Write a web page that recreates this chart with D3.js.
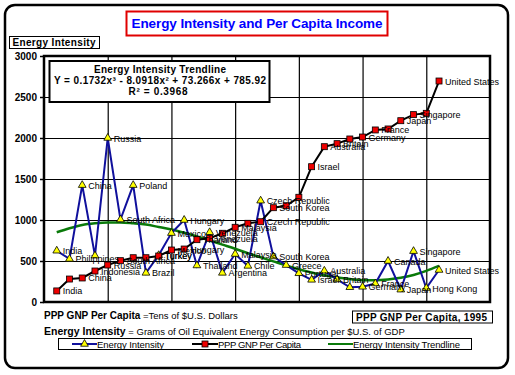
<!DOCTYPE html>
<html>
<head>
<meta charset="utf-8">
<script src="https://cdn.jsdelivr.net/npm/d3@7"></script>
<style>
  body { margin: 0; background: #fff; }
  svg { display: block; font-family: "Liberation Sans", Arial, sans-serif; }
</style>
</head>
<body>
<div id="chart"></div>
<script>
// countries sorted by PPP GNP per capita (x position = 1..31)
var countries = ["India", "Philippines", "China", "Indonesia", "Russia", "South Africa", "Poland", "Brazil", "Turkey", "Mexico",
    "Hungary", "Thailand", "Venezuela", "Argentina", "Malaysia", "Chile", "Czech Republic", "South Korea", "Greece", "Portugal",
    "Israel", "Australia", "Britain", "Italy", "Germany", "France", "Canada", "Japan", "Singapore", "Hong Kong", "United States"];

var energyIntensity = [625, 525, 1425, 565, 2000, 1005, 1425, 355, 570, 840,
    1000, 445, 850, 355, 585, 440, 1235, 555, 450, 350,
    270, 380, 275, 180, 185, 225, 500, 150, 620, 170, 390];

var pppPerCapita = [135, 280, 293, 378, 451, 504, 540, 540, 561, 634,
    646, 760, 777, 838, 911, 960, 979, 1150, 1174, 1277,
    1650, 1894, 1931, 1988, 2012, 2098, 2110, 2211, 2285, 2301, 2695];

// trendline
var trendline = [850, 900, 940, 960, 970, 970, 960, 945, 915, 885,
    845, 800, 750, 700, 650, 595, 545, 495, 445, 400,
    360, 325, 300, 280, 265, 265, 275, 295, 330, 380, 440];

// which labels are visible in the picture
var eiLabels = countries.map(function(c) { return (c == "Indonesia" || c == "Italy") ? "" : c; });
var pppHidden = ["Philippines", "Poland", "Brazil", "Argentina", "Chile", "Greece", "Portugal", "Italy", "Canada", "Hong Kong"];
var pppLabels = countries.map(function(c) { return pppHidden.indexOf(c) >= 0 ? "" : c; });

var yTicks = [0, 500, 1000, 1500, 2000, 2500, 3000];
var xTicks = [5, 10, 15, 20, 25, 30];

var W = 515, H = 375;
var plotL = 44, plotR = 490, plotT = 56, plotB = 302;

var svg = d3.select("#chart").append("svg")
    .attr("width", W)
    .attr("height", H);

// outer rounded frame
svg.append("rect")
    .attr("x", 5).attr("y", 5)
    .attr("width", 503).attr("height", 363)
    .attr("rx", 10).attr("ry", 10)
    .attr("fill", "#fff")
    .attr("stroke", "#000")
    .attr("stroke-width", 2.5);

// title
svg.append("rect")
    .attr("x", 126.5).attr("y", 11.5)
    .attr("width", 261).attr("height", 24)
    .attr("fill", "#fff")
    .attr("stroke", "#e00000")
    .attr("stroke-width", 2);

svg.append("text")
    .attr("x", 257).attr("y", 28)
    .attr("text-anchor", "middle")
    .attr("font-size", "13.5px")
    .attr("font-weight", "bold")
    .attr("fill", "#0000ff")
    .attr("textLength", 251)
    .text("Energy Intensity and Per Capita Income");

// y axis title box
svg.append("rect")
    .attr("x", 9.5).attr("y", 36.5)
    .attr("width", 90).attr("height", 12)
    .attr("fill", "#fff")
    .attr("stroke", "#000")
    .attr("stroke-width", 1);

svg.append("text")
    .attr("x", 12.5).attr("y", 46)
    .attr("font-size", "10px")
    .attr("font-weight", "bold")
    .attr("textLength", 83)
    .text("Energy Intensity");

var x = d3.scaleLinear().domain([0, 35]).range([plotL, plotR]);
var y = d3.scaleLinear().domain([0, 3000]).range([plotB, plotT]);

// gridlines
svg.append("g")
    .attr("transform", "translate(0," + plotB + ")")
    .call(d3.axisBottom(x).tickValues(xTicks).tickSize(-(plotB - plotT)).tickFormat(""))
    .call(function(g) { g.select(".domain").remove(); })
    .selectAll("line")
    .attr("stroke", "#000")
    .attr("stroke-width", 1.2);

svg.append("g")
    .attr("transform", "translate(" + plotL + ",0)")
    .call(d3.axisLeft(y).tickValues(yTicks.slice(1, -1)).tickSize(-(plotR - plotL)).tickFormat(""))
    .call(function(g) { g.select(".domain").remove(); })
    .selectAll("line")
    .attr("stroke", "#000")
    .attr("stroke-width", 1.2);

// y axis with labels
var yAxis = svg.append("g")
    .attr("transform", "translate(" + plotL + ",0)")
    .call(d3.axisLeft(y).tickValues(yTicks).tickSize(4).tickPadding(3).tickFormat(d3.format("d")));
yAxis.select(".domain").remove();
yAxis.selectAll("line").attr("stroke", "#000").attr("stroke-width", 1.5);
yAxis.selectAll("text")
    .attr("font-family", "Liberation Sans, Arial, sans-serif")
    .attr("font-size", "10px")
    .attr("font-weight", "bold")
    .attr("fill", "#000");

// plot frame
svg.append("rect")
    .attr("x", plotL).attr("y", plotT)
    .attr("width", plotR - plotL).attr("height", plotB - plotT)
    .attr("fill", "none")
    .attr("stroke", "#000")
    .attr("stroke-width", 2.5);

// trendline box
var tb = svg.append("g");
tb.append("rect")
    .attr("x", 49.5).attr("y", 61)
    .attr("width", 220).attr("height", 41)
    .attr("fill", "#fff")
    .attr("stroke", "#000")
    .attr("stroke-width", 2);
tb.append("text")
    .attr("x", 160).attr("y", 72.5)
    .attr("text-anchor", "middle")
    .attr("font-size", "10px").attr("font-weight", "bold")
    .attr("textLength", 132)
    .text("Energy Intensity Trendline");
tb.append("text")
    .attr("x", 160).attr("y", 83.5)
    .attr("text-anchor", "middle")
    .attr("font-size", "10px").attr("font-weight", "bold")
    .attr("textLength", 212)
    .text("Y = 0.1732x³ - 8.0918x² + 73.266x + 785.92");
tb.append("text")
    .attr("x", 158).attr("y", 94.5)
    .attr("text-anchor", "middle")
    .attr("font-size", "10px").attr("font-weight", "bold")
    .attr("textLength", 59)
    .text("R² = 0.3968");

var line = d3.line()
    .x(function(d, i) { return x(i + 1); })
    .y(function(d) { return y(d); });

// trendline
svg.append("path")
    .datum(trendline)
    .attr("d", line.curve(d3.curveMonotoneX))
    .attr("fill", "none")
    .attr("stroke", "#0a7a0a")
    .attr("stroke-width", 2.5);
line.curve(d3.curveLinear);

// energy intensity line
svg.append("path")
    .datum(energyIntensity)
    .attr("d", line)
    .attr("fill", "none")
    .attr("stroke", "#10109c")
    .attr("stroke-width", 2);

// ppp line
svg.append("path")
    .datum(pppPerCapita)
    .attr("d", line)
    .attr("fill", "none")
    .attr("stroke", "#000")
    .attr("stroke-width", 2);

var tri = d3.symbol().type(d3.symbolTriangle).size(26);

svg.append("g").selectAll("path")
    .data(energyIntensity)
    .enter().append("path")
    .attr("d", tri)
    .attr("transform", function(d, i) { return "translate(" + x(i + 1) + "," + y(d) + ")"; })
    .attr("fill", "#ffff00")
    .attr("stroke", "#000")
    .attr("stroke-width", 0.8);

svg.append("g").selectAll("rect")
    .data(pppPerCapita)
    .enter().append("rect")
    .attr("x", function(d, i) { return x(i + 1) - 3; })
    .attr("y", function(d) { return y(d) - 3; })
    .attr("width", 6).attr("height", 6)
    .attr("fill", "#ee0000")
    .attr("stroke", "#000")
    .attr("stroke-width", 0.8);

// data labels
var labs = svg.append("g").attr("font-size", "9px").attr("fill", "#000");
labs.selectAll(".ei")
    .data(energyIntensity)
    .enter().append("text")
    .attr("class", "ei")
    .attr("x", function(d, i) { return x(i + 1) + 6; })
    .attr("y", function(d) { return y(d) + 3.5; })
    .text(function(d, i) { return eiLabels[i]; });

labs.selectAll(".ppp")
    .data(pppPerCapita)
    .enter().append("text")
    .attr("class", "ppp")
    .attr("x", function(d, i) { return x(i + 1) + 6; })
    .attr("y", function(d) { return y(d) + 3.5; })
    .text(function(d, i) { return pppLabels[i]; });

// notes under the chart
var n1 = svg.append("text").attr("x", 44).attr("y", 319).attr("font-size", "9.5px");
n1.append("tspan").attr("font-weight", "bold").attr("font-size", "10px").text("PPP GNP Per Capita");
n1.append("tspan").text(" =Tens of $U.S. Dollars");

var n2 = svg.append("text").attr("x", 44).attr("y", 335).attr("font-size", "9.5px");
n2.append("tspan").attr("font-weight", "bold").attr("font-size", "10.5px").text("Energy Intensity");
n2.append("tspan").text(" = Grams of Oil Equivalent Energy Consumption per $U.S. of GDP");

svg.append("rect")
    .attr("x", 352.5).attr("y", 311)
    .attr("width", 140).attr("height", 12)
    .attr("fill", "#fff")
    .attr("stroke", "#000")
    .attr("stroke-width", 1);
svg.append("text")
    .attr("x", 356).attr("y", 320.5)
    .attr("font-size", "10px").attr("font-weight", "bold")
    .attr("textLength", 131)
    .text("PPP GNP Per Capita, 1995");

// legend
var lg = svg.append("g");
lg.append("rect")
    .attr("x", 58.5).attr("y", 338.5)
    .attr("width", 413).attr("height", 11)
    .attr("fill", "#fff")
    .attr("stroke", "#000")
    .attr("stroke-width", 1);

var legendItems = [
    { name: "Energy Intensity", color: "#10109c", x0: 72, x1: 97, mark: "tri", w: 67 },
    { name: "PPP GNP Per Capita", color: "#000", x0: 192, x1: 218, mark: "sq", w: 83 },
    { name: "Energy Intensity Trendline", color: "#0a7a0a", x0: 328, x1: 353, mark: "", w: 107 }
];

legendItems.forEach(function(it) {
    lg.append("line")
        .attr("x1", it.x0).attr("x2", it.x1)
        .attr("y1", 344).attr("y2", 344)
        .attr("stroke", it.color)
        .attr("stroke-width", 2);
    var cx = (it.x0 + it.x1) / 2;
    if (it.mark == "tri") {
        lg.append("path")
            .attr("d", tri)
            .attr("transform", "translate(" + cx + ",344)")
            .attr("fill", "#ffff00").attr("stroke", "#000").attr("stroke-width", 0.8);
    } else if (it.mark == "sq") {
        lg.append("rect")
            .attr("x", cx - 3).attr("y", 341).attr("width", 6).attr("height", 6)
            .attr("fill", "#ee0000").attr("stroke", "#000").attr("stroke-width", 0.8);
    }
    lg.append("text")
        .attr("x", it.x1).attr("y", 347.5)
        .attr("font-size", "9.5px")
        .attr("textLength", it.w)
        .text(it.name);
});
</script>
</body>
</html>
